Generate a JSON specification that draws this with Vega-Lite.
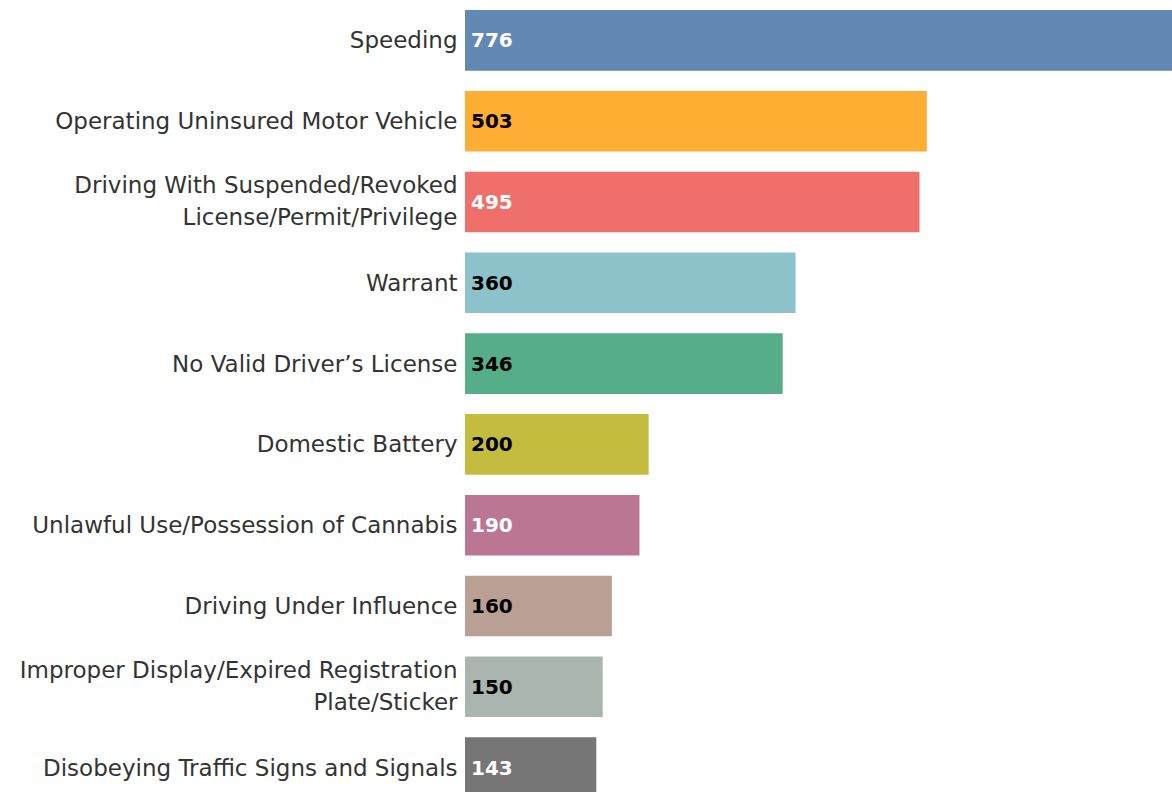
{
  "$schema": "https://vega.github.io/schema/vega-lite/v6.json",
  "width": 707,
  "height": 808,
  "autosize": {"type": "none"},
  "padding": {"left": 465, "top": 0, "right": 0, "bottom": 0},
  "background": "white",
  "config": {"view": {"stroke": null}},
  "data": {
    "values": [
      {"offense": "Speeding", "count": 776},
      {"offense": "Operating Uninsured Motor Vehicle", "count": 503},
      {"offense": "Driving With Suspended/Revoked|License/Permit/Privilege", "count": 495},
      {"offense": "Warrant", "count": 360},
      {"offense": "No Valid Driver’s License", "count": 346},
      {"offense": "Domestic Battery", "count": 200},
      {"offense": "Unlawful Use/Possession of Cannabis", "count": 190},
      {"offense": "Driving Under Influence", "count": 160},
      {"offense": "Improper Display/Expired Registration|Plate/Sticker", "count": 150},
      {"offense": "Disobeying Traffic Signs and Signals", "count": 143}
    ]
  },
  "encoding": {
    "y": {
      "field": "offense",
      "type": "nominal",
      "sort": {"field": "count", "order": "descending"},
      "title": null,
      "scale": {"paddingInner": 0.25, "paddingOuter": 0.125},
      "axis": {
        "domain": false,
        "ticks": false,
        "labelPadding": 8,
        "labelFont": "DejaVu Sans",
        "labelFontSize": 23,
        "labelColor": "#333333",
        "labelLimit": 0,
        "labelLineHeight": 32,
        "labelOffset": {"condition": {"test": "indexof(datum.value, '|') >= 0", "value": -16}, "value": 1},
        "labelExpr": "split(datum.label, '|')"
      }
    }
  },
  "layer": [
    {
      "mark": {"type": "bar", "clip": true},
      "encoding": {
        "x": {"field": "count", "type": "quantitative", "scale": {"domain": [0, 770], "nice": false}, "axis": null},
        "color": {
          "field": "offense",
          "type": "nominal",
          "legend": null,
          "scale": {
            "domain": ["Speeding", "Operating Uninsured Motor Vehicle", "Driving With Suspended/Revoked|License/Permit/Privilege", "Warrant", "No Valid Driver’s License", "Domestic Battery", "Unlawful Use/Possession of Cannabis", "Driving Under Influence", "Improper Display/Expired Registration|Plate/Sticker", "Disobeying Traffic Signs and Signals"],
            "range": ["#6388b4", "#ffae34", "#ef6f6a", "#8cc2ca", "#55ad89", "#c3bc3f", "#bb7693", "#baa094", "#a9b5ae", "#767676"]
          }
        }
      }
    },
    {
      "mark": {"type": "text", "align": "left", "baseline": "middle", "dx": 6, "dy": 1, "font": "DejaVu Sans", "fontWeight": "bold", "fontSize": 20},
      "encoding": {
        "x": {"datum": 0, "type": "quantitative"},
        "text": {"field": "count", "type": "quantitative"},
        "color": {
          "field": "offense",
          "type": "nominal",
          "legend": null,
          "scale": {
            "domain": ["Speeding", "Operating Uninsured Motor Vehicle", "Driving With Suspended/Revoked|License/Permit/Privilege", "Warrant", "No Valid Driver’s License", "Domestic Battery", "Unlawful Use/Possession of Cannabis", "Driving Under Influence", "Improper Display/Expired Registration|Plate/Sticker", "Disobeying Traffic Signs and Signals"],
            "range": ["#ffffff", "#000000", "#ffffff", "#000000", "#000000", "#000000", "#ffffff", "#000000", "#000000", "#ffffff"]
          }
        }
      }
    }
  ],
  "resolve": {"scale": {"color": "independent"}}
}
